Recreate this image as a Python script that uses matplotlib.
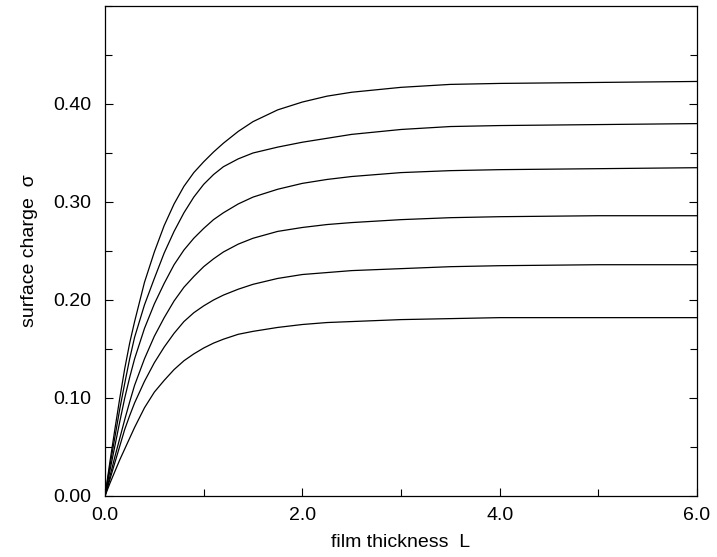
import matplotlib
matplotlib.use("Agg")
import matplotlib.pyplot as plt
from matplotlib.ticker import MultipleLocator, FormatStrFormatter

plt.rcParams['font.family'] = ['Liberation Sans', 'DejaVu Sans']

L = [0, 0.05, 0.1, 0.15, 0.2, 0.25, 0.3, 0.4, 0.5, 0.6, 0.7, 0.8, 0.9, 1.0, 1.1, 1.2, 1.35, 1.5, 1.75, 2.0, 2.25, 2.5, 3.0, 3.5, 4.0, 5.0, 6.0]

sigma1 = [0, 0.035, 0.068, 0.100, 0.130, 0.156, 0.178, 0.218, 0.249, 0.276, 0.298, 0.316, 0.330, 0.341, 0.351, 0.360, 0.372, 0.382, 0.394, 0.402, 0.408, 0.412, 0.417, 0.420, 0.421, 0.422, 0.423]
sigma2 = [0, 0.031, 0.060, 0.089, 0.115, 0.140, 0.162, 0.195, 0.222, 0.248, 0.270, 0.289, 0.305, 0.318, 0.328, 0.336, 0.344, 0.350, 0.356, 0.361, 0.365, 0.369, 0.374, 0.377, 0.378, 0.379, 0.380]
sigma3 = [0, 0.026, 0.051, 0.076, 0.100, 0.121, 0.140, 0.171, 0.196, 0.217, 0.236, 0.251, 0.263, 0.273, 0.282, 0.289, 0.298, 0.305, 0.313, 0.319, 0.323, 0.326, 0.330, 0.332, 0.333, 0.334, 0.335]
sigma4 = [0, 0.020, 0.040, 0.059, 0.078, 0.096, 0.113, 0.140, 0.163, 0.182, 0.199, 0.213, 0.224, 0.234, 0.242, 0.249, 0.257, 0.263, 0.270, 0.274, 0.277, 0.279, 0.282, 0.284, 0.285, 0.286, 0.286]
sigma5 = [0, 0.017, 0.034, 0.051, 0.068, 0.082, 0.095, 0.117, 0.136, 0.152, 0.166, 0.178, 0.187, 0.194, 0.200, 0.205, 0.211, 0.216, 0.222, 0.226, 0.228, 0.230, 0.232, 0.234, 0.235, 0.236, 0.236]
sigma6 = [0, 0.013, 0.025, 0.037, 0.048, 0.059, 0.070, 0.090, 0.106, 0.118, 0.129, 0.138, 0.145, 0.151, 0.156, 0.160, 0.165, 0.168, 0.172, 0.175, 0.177, 0.178, 0.180, 0.181, 0.182, 0.182, 0.182]

curves = [sigma1, sigma2, sigma3, sigma4, sigma5, sigma6]

fig = plt.figure(figsize=(7.17, 5.57), dpi=100)
ax = fig.add_axes([105/717, 61/557, 592/717, 490/557])

for s in curves:
    ax.plot(L, s, color='black', lw=0.9)

ax.set_xlim(0, 6)
ax.set_ylim(0, 0.5)
ax.xaxis.set_major_locator(MultipleLocator(2.0))
ax.xaxis.set_minor_locator(MultipleLocator(1.0))
ax.set_yticks([0.0, 0.1, 0.2, 0.3, 0.4])
ax.yaxis.set_minor_locator(MultipleLocator(0.05))
ax.xaxis.set_major_formatter(FormatStrFormatter('%.1f'))
ax.yaxis.set_major_formatter(FormatStrFormatter('%.2f'))
ax.tick_params(which='both', direction='in', top=False, right=True, width=0.8, labelsize=14)
ax.tick_params(which='major', length=6)
ax.tick_params(axis='y', which='major', pad=10)
ax.tick_params(axis='x', which='major', pad=8)
ax.tick_params(which='minor', length=5)
for sp in ax.spines.values():
    sp.set_linewidth(0.9)

ax.set_xlabel('film thickness  L', fontsize=14, labelpad=7)
ax.set_ylabel('surface charge  σ', fontsize=14, labelpad=11)

fig.savefig('out.png', dpi=100)
